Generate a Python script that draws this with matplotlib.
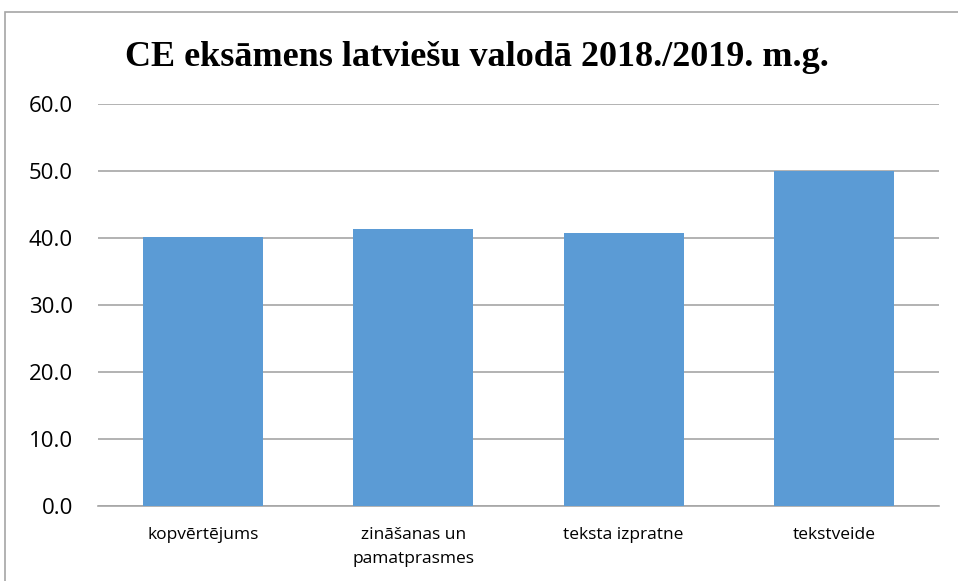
import matplotlib
matplotlib.use("Agg")
import matplotlib.pyplot as plt
from matplotlib.patches import Rectangle

categories = ["kopvērtējums", "zināšanas un\npamatprasmes", "teksta izpratne", "tekstveide"]
values = [40.1, 41.3, 40.8, 50.0]
yticks = [0, 10, 20, 30, 40, 50, 60]
title = "CE eksāmens latviešu valodā 2018./2019. m.g."

W, H = 958, 581
fig = plt.figure(figsize=(W / 100, H / 100), dpi=100)
ax = fig.add_axes([98 / W, 1 - 506 / H, (939 - 98) / W, (506 - 104) / H])

x = list(range(len(categories)))
ax.bar(x, values, width=0.57, color="#5B9BD5", zorder=3)
ax.set_xlim(-0.5, len(categories) - 0.5)
ax.set_ylim(0, 60)
ax.set_yticks(yticks)
ax.set_yticklabels([f"{v:.1f}" for v in yticks], fontsize=16, family="Open Sans")
ax.set_xticks(x)
ax.set_xticklabels(categories, fontsize=12.5, family="Open Sans", linespacing=1.7)
ax.tick_params(axis="both", length=0)
ax.tick_params(axis="y", pad=18)
ax.tick_params(axis="x", pad=15)
ax.grid(axis="y", color="#A6A6A6", linewidth=1.2, zorder=0)
for s in ["top", "right", "left"]:
    ax.spines[s].set_visible(False)
ax.spines["bottom"].set_color("#A6A6A6")
ax.spines["bottom"].set_linewidth(1.2)

fig.text(477 / W, 1 - 57 / H, title, ha="center", va="center",
         fontsize=26, fontweight="bold", family="Liberation Serif")

fig.patches.append(Rectangle((5 / W, -0.1), 1.2, 1 - 12 / H + 0.1,
                             transform=fig.transFigure, fill=False,
                             edgecolor="#A6A6A6", linewidth=1.2))

fig.savefig("out.png", dpi=100)
